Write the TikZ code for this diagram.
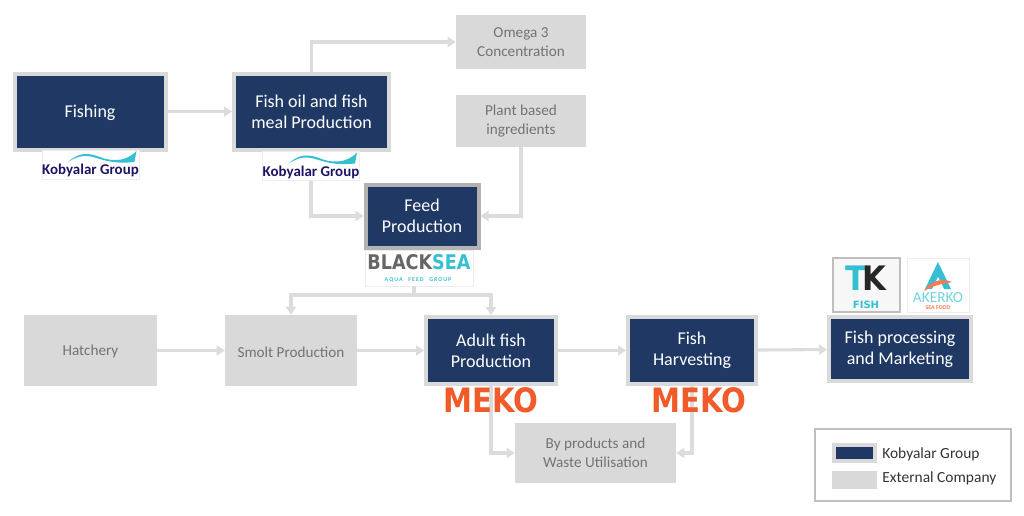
\documentclass[tikz,border=0pt]{standalone}
\usepackage{fontspec}
\setmainfont{Carlito}
\newfontfamily\logofont{DejaVu Sans}
\usetikzlibrary{arrows.meta}
\definecolor{Navy}{HTML}{1F3864}
\definecolor{Pale}{HTML}{D9D9D9}
\definecolor{Wire}{HTML}{DCDCDC}
\definecolor{Teal}{HTML}{35BFD3}
\definecolor{Meko}{HTML}{F15A29}
\definecolor{Indigo}{HTML}{1E1466}
\tikzset{
  size/.style 2 args={minimum width=#1*0.75pt,minimum height=#2*0.75pt,inner sep=0pt},
  darkbox/.style={fill=Navy,draw=Pale,line width=3pt,text=white,align=center,font=\fontsize{13.5}{16}\selectfont,execute at begin node={\rule{0pt}{11.5pt}}},
  lowtext/.style={execute at begin node={\rule{0pt}{14.5pt}}},
  palebox/.style={fill=Pale,text=black!55,align=center,font=\fontsize{11.4}{14.5}\selectfont,execute at begin node={\rule{0pt}{10pt}}},
  logobox/.style={fill=white,draw=black!7,line width=0.6pt,inner sep=0pt},
  wire/.style={draw=Wire,line width=2.3pt,-{Triangle[length=6pt,width=7.5pt]}},
  kobyalar/.pic={
    \node[logobox,size={97}{29}] (box) at (0,0) {};
    \fill[Teal] (-22.5,-2.5) .. controls (-12,-12) and (-3,-12) .. (8,-8) .. controls (20,-3) and (35,-2) .. (46,-13.5) -- (44,-2.5) .. controls (30,-1) and (20,-2) .. (6,-6.5) .. controls (-5,-10) and (-12,-9) .. (-22.5,-2.5) -- cycle;
    \node[text=Indigo,font=\fontsize{11.2}{12}\bfseries\selectfont,inner sep=0pt] (name) at (0,6) {Kobyalar Group};
  }
}
\begin{document}
\begin{tikzpicture}[x=0.75pt,y=-0.75pt]
  \useasboundingbox (0,0) rectangle (1024,515);
  % top row
  \node[darkbox,size={151}{76}] (fishing) at (90,111.5) {Fishing};
  \node[darkbox,size={155}{76}] (oil) at (311.5,111.5) {Fish oil and fish\\meal Production};
  \node[palebox,size={130}{54}] (omega) at (521,42) {Omega 3\\Concentration};
  \node[palebox,size={130}{52}] (plant) at (521,121) {Plant based\\ingredients};
  \pic (kobA) at (90.5,164.5) {kobyalar};
  \pic (kobB) at (311,166) {kobyalar};
  \node[darkbox,draw=black!30,size={113}{63}] (feed) at (422,216) {Feed\\Production};
  % feed logo
  \node[logobox,size={108}{36}] (black) at (419,268) {};
  \node[inner sep=0pt,yscale=1.15,font=\logofont\fontsize{13.2}{14}\bfseries\selectfont] (blackname) at (419,262.5) {\textcolor{black!60}{BLACK}\textcolor{Teal}{SEA}};
  \node[inner sep=0pt,text=Teal,font=\fontsize{4.4}{5}\bfseries\selectfont] (blacksub) at (418,280) {A\,Q\,U\,A\quad F\,E\,E\,D\quad G\,R\,O\,U\,P};
  \coordinate (blacktail) at (414,286);
  \coordinate (split) at (414,295);
  % middle row
  \node[palebox,size={133}{71}] (hatch) at (90.5,350.5) {Hatchery};
  \node[palebox,size={132}{71}] (smolt) at (291,350.5) {Smolt Production};
  \node[darkbox,size={130}{67}] (adult) at (491,350.5) {Adult fish\\Production};
  \node[darkbox,lowtext,size={128}{67}] (harvest) at (692,350.5) {Fish\\Harvesting};
  \node[darkbox,lowtext,size={142}{64}] (market) at (900,349) {Fish processing\\and Marketing};
  \node[palebox,size={161}{60}] (waste) at (595.5,453) {By products and\\Waste Utilisation};
  % connectors
  \draw[wire] (fishing) -- (oil);
  \draw[wire] (oil.north) |- (omega.west);
  \draw[wire] (kobBbox.south) |- (feed.west);
  \draw[wire] (plant.south) |- (feed.east);
  \draw[wire,-] (blacktail) -- (split);
  \draw[wire] (split) -| (smolt.north);
  \draw[wire] (split) -| (adult.north);
  \draw[wire] (hatch) -- (smolt);
  \draw[wire] (smolt) -- (adult);
  \draw[wire] (adult) -- (harvest);
  \draw[wire] (harvest) -- (market);
  \draw[wire] (adult.south) |- (waste.west);
  \draw[wire] (harvest.south) |- (waste.east);
  % meko logos sit on the lines
  \foreach \logo/\mx in {mekoA/491,mekoB/699}{
    \node[text=Meko,inner sep=0pt,yscale=1.2,xscale=1.04,font=\logofont\fontsize{21}{21}\bfseries\selectfont] (\logo) at (\mx,400.5) {MEKO};
    \fill[white] (\mx+33,397) circle (1.8);
  }
  % processing logos
  \node[logobox,draw=black!25,fill=black!3,line width=1pt,size={67}{54}] (tk) at (866.5,285) {};
  \node[inner sep=0pt,yscale=1.1,font=\logofont\fontsize{23}{23}\bfseries\selectfont] (tkname) at (866,278) {\textcolor{Teal}{T}\kern-3pt\textcolor{black!85}{K}};
  \node[inner sep=0pt,text=Teal,font=\logofont\fontsize{7.5}{8}\bfseries\selectfont] (tkfish) at (866,305) {FISH};
  \node[logobox,size={62}{54}] (akerko) at (938,285) {};
  \fill[Teal] (938,262) -- (951,289) -- (925,289) -- cycle;
  \fill[white] (938,277) -- (945,291) -- (931,291) -- cycle;
  \fill[Meko!80] (924,291) .. controls (932,278) and (945,279) .. (952,282) .. controls (944,284) and (936,284) .. (924,291) -- cycle;
  \node[inner sep=0pt,text=Teal!70,font=\fontsize{11.5}{12}\selectfont] (akname) at (938,298) {AKERKO};
  \node[inner sep=0pt,text=Meko!80,font=\fontsize{4.4}{5}\bfseries\selectfont] (aksub) at (938,307.5) {SEA FOOD};
  % legend
  \node[draw=black!25,line width=1pt,size={196}{72}] (legend) at (913,465) {};
  \node[fill=Navy,draw=Pale,line width=3pt,size={41}{16}] (keyA) at (854.5,453) {};
  \node[fill=Pale,size={45}{18}] (keyB) at (854.5,480) {};
  \node[right,inner sep=0pt,text=black!80,font=\fontsize{11.6}{13}\selectfont] (textA) at (882,454) {Kobyalar Group};
  \node[right,inner sep=0pt,text=black!80,font=\fontsize{11.6}{13}\selectfont] (textB) at (882,478) {External Company};
\end{tikzpicture}
\end{document}
